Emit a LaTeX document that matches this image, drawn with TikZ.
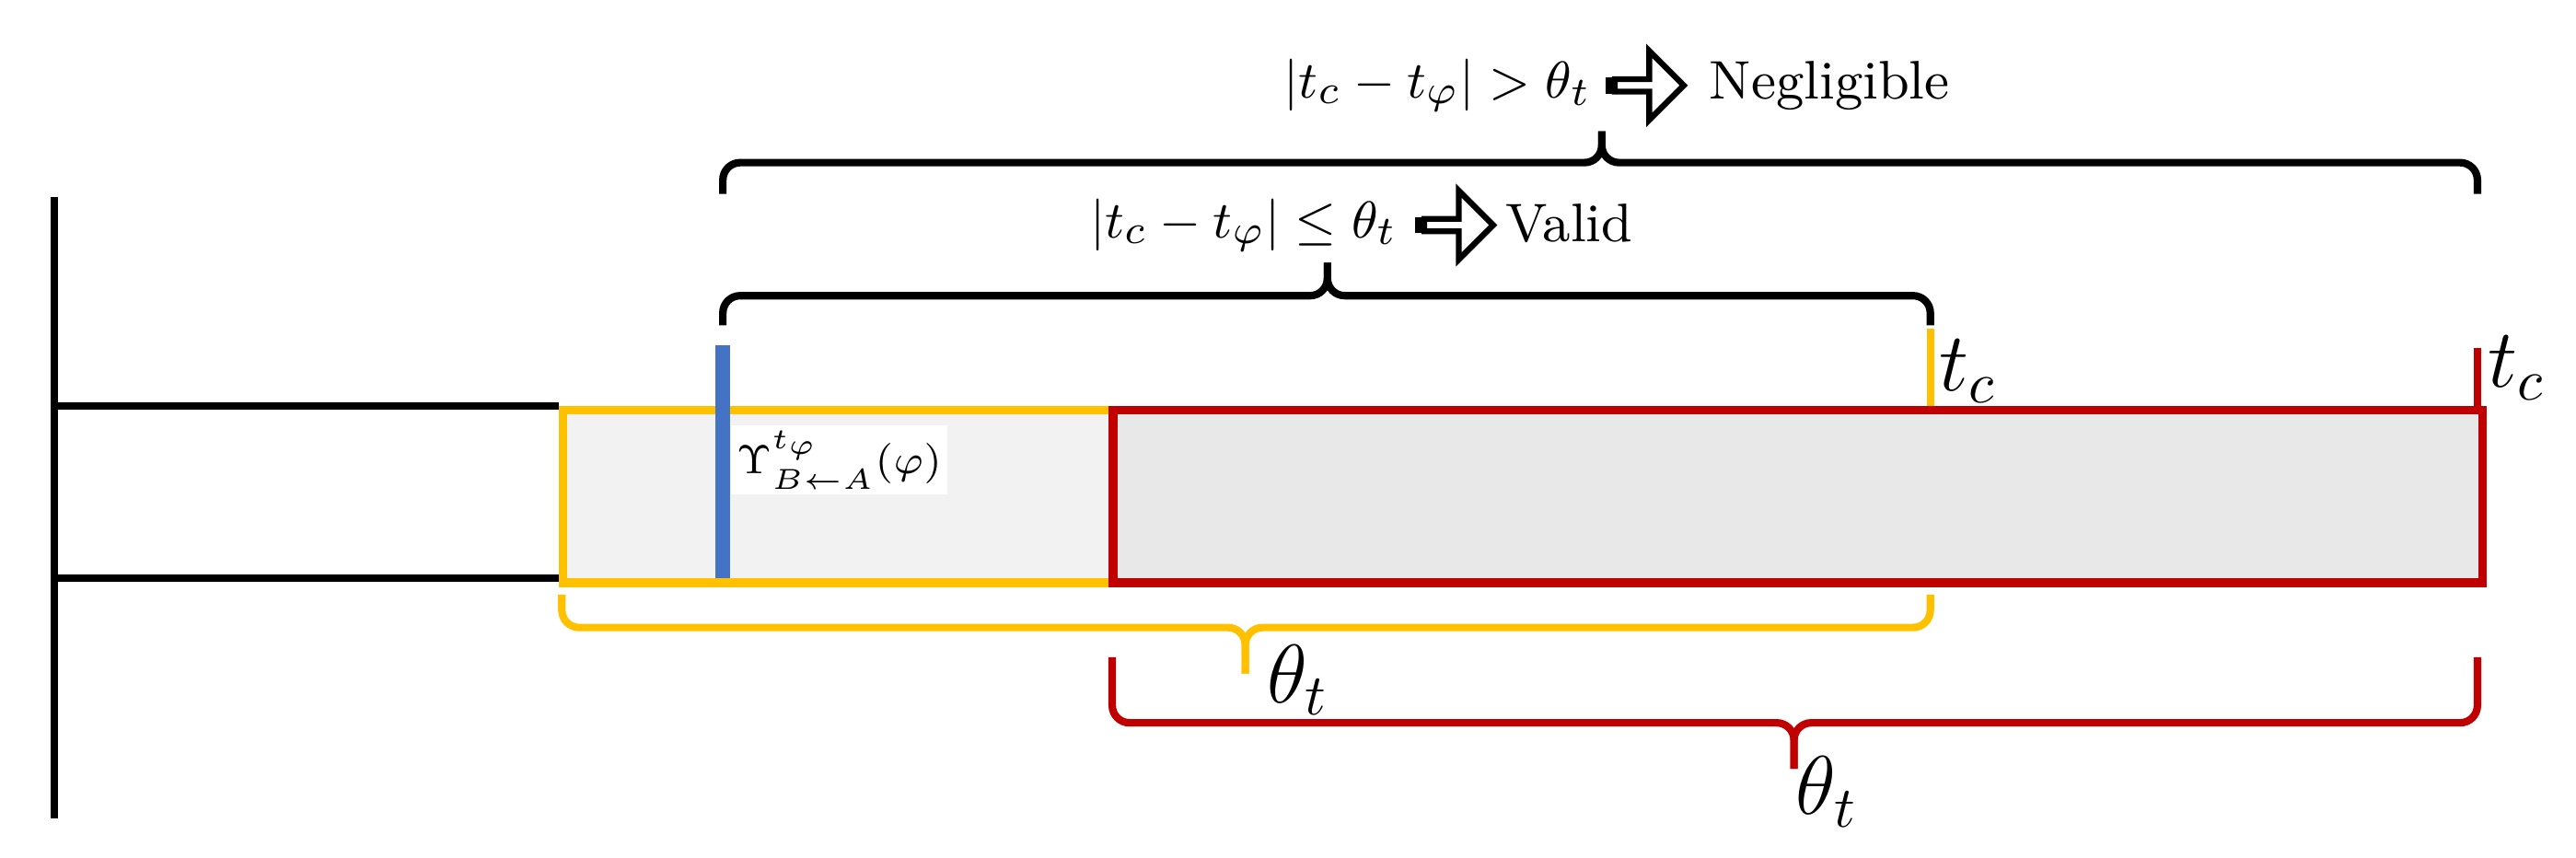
\documentclass[tikz,border=0pt]{standalone}
\usetikzlibrary{shapes.arrows}
\definecolor{yel}{HTML}{FFC000}
\definecolor{red1}{HTML}{C00000}
\definecolor{blu}{HTML}{4472C4}
\begin{document}
\begin{tikzpicture}[x=0.01cm,y=-0.01cm,font=\fontsize{9.4}{11}\selectfont,
  br/.style={line width=1.3pt,rounded corners=3pt},
  arr/.style={single arrow,draw,line width=1pt,minimum height=0.42cm,minimum width=0.42cm,single arrow head extend=0.08cm,inner sep=0pt,fill=white}]
\useasboundingbox (0,0) rectangle (1568,522);
% axis
\coordinate (v1) at (33,120); \coordinate (v2) at (33,498);
\draw[line width=1.3pt] (v1) -- (v2);
\coordinate (h1) at (33,247); \coordinate (h2) at (340,247);
\coordinate (h3) at (33,352); \coordinate (h4) at (340,352);
\draw[line width=1.3pt] (h1) -- (h2) (h3) -- (h4);
% boxes
\node[draw=yel,line width=1.5pt,fill=black!5,minimum width=3.35cm,minimum height=1.05cm,anchor=north west,inner sep=0pt] (yb) at (340,247) {};
\node[draw=red1,line width=1.5pt,fill=black!9,minimum width=8.33cm,minimum height=1.05cm,anchor=north west,inner sep=0pt] (rb) at (675,247) {};
% blue line
\coordinate (b1) at (440,210); \coordinate (b2) at (440,352);
\draw[blu,line width=2.5pt] (b1) -- (b2);
\node[fill=white,inner sep=1pt,anchor=north west,font=\scriptsize] (ups) at (444,258) {$\Upsilon^{t_\varphi}_{B\leftarrow A}(\varphi)$};
% ticks
\coordinate (y1) at (1175,200); \coordinate (y2) at (1175,247);
\draw[yel,line width=1.3pt] (y1) -- (y2);
\coordinate (r1) at (1508,212); \coordinate (r2) at (1508,247);
\draw[red1,line width=1.3pt] (r1) -- (r2);
\node[font=\Large] (tc1) at (1198,226) {$t_c$};
\node[font=\Large] (tc2) at (1532,224) {$t_c$};
% black braces
\coordinate (a1) at (440,198); \coordinate (a2) at (1175,198); \coordinate (at) at (808,160);
\draw[br] (a1) |- (808,180) -- (at);
\draw[br] (a2) |- (808,180) -- (at);
\coordinate (c1) at (440,118); \coordinate (c2) at (1508,118); \coordinate (ct) at (975,80);
\draw[br] (c1) |- (975,99) -- (ct);
\draw[br] (c2) |- (975,99) -- (ct);
\node (valid) at (757,137) {$|t_c-t_\varphi|\leq\theta_t$};
\node[arr] (ar1) at (886,137) {};
\draw[line width=2pt] (ar1.west) ++(0,-5) -- ++(0,10);
\node[anchor=west] (vt) at (904,136) {Valid};
\node (neg) at (875,52) {$|t_c-t_\varphi|>\theta_t$};
\node[arr] (ar2) at (1002,52) {};
\draw[line width=2pt] (ar2.west) ++(0,-5) -- ++(0,10);
\node[anchor=west] (nt) at (1028,52) {Negligible};
% lower braces
\coordinate (d1) at (342,362); \coordinate (d2) at (1175,362); \coordinate (dt) at (758,410);
\draw[br,yel] (d1) |- (758,382) -- (dt);
\draw[br,yel] (d2) |- (758,382) -- (dt);
\node[font=\Large] (th1) at (790,414) {$\theta_t$};
\coordinate (e1) at (677,400); \coordinate (e2) at (1508,400); \coordinate (et) at (1092,468);
\draw[br,red1] (e1) |- (1092,440) -- (et);
\draw[br,red1] (e2) |- (1092,440) -- (et);
\node[font=\Large] (th2) at (1112,482) {$\theta_t$};
\end{tikzpicture}
\end{document}
